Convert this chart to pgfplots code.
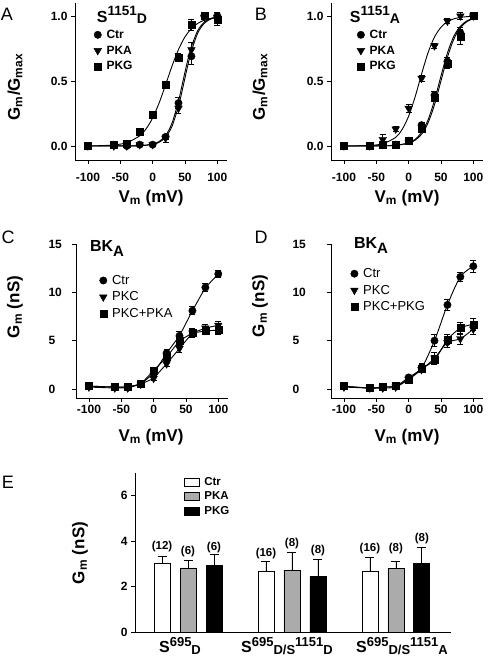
\documentclass[border=0pt]{standalone}
\usepackage{fontspec}
\setmainfont{Liberation Sans}
\usepackage{pgfplots}
\pgfplotsset{compat=1.18}
\newcommand\tk{\bfseries\fontsize{12}{12}\selectfont}
\newcommand\lab{\bfseries\fontsize{17}{18}\selectfont}
\newcommand\pl{\fontsize{18}{18}\selectfont}
\newcommand\ttl[2]{{\fontsize{16}{16}\selectfont S}\raisebox{7pt}{\fontsize{13.5}{14}\selectfont #1}\raisebox{-1pt}{\fontsize{14}{14}\selectfont #2}}
\newcommand\cat[1]{{\fontsize{16}{16}\selectfont S}\raisebox{6pt}{\fontsize{13}{13}\selectfont 695}\raisebox{-2pt}{\fontsize{13}{13}\selectfont #1}}
\pgfplotsset{
  base/.style={scale only axis, axis x line*=bottom, axis y line*=left,
    axis line style={-, line width=0.8pt}, tick align=outside, major tick length=4pt,
    tick style={line width=0.8pt, black}, tick label style={font=\tk}, clip=false},
  vaxis/.style={base, width=152pt, height=157pt, xmin=-120, xmax=115,
    xtick={-100,-50,0,50,100}, xticklabels={-100,-50,0,50,100}},
  errs/.style={error bars/y dir=both, error bars/y explicit,
    error bars/error bar style={line width=0.8pt, black},
    error bars/error mark options={rotate=90, mark size=3pt, line width=0.8pt, black}},
  mc/.style={black, only marks, mark=*, mark size=3.7pt, errs},
  mt/.style={black, only marks, mark=triangle*, mark size=4.4pt, mark options={rotate=180}, errs},
  ms/.style={black, only marks, mark=square*, mark size=3.5pt, errs},
  fit/.style={black, line width=0.9pt, smooth, no markers, forget plot},
  lnk/.style={black, line width=0.9pt, no markers, forget plot},
  leg/.style={legend cell align=left, legend style={draw=none, fill=none, inner sep=0pt, row sep=2pt, at={#1}, anchor=north west,
     /tikz/every odd column/.append style={column sep=3pt}}},
  ebar/.style={ybar, bar width=16pt, bar shift=0pt, draw=black, line width=0.8pt,
    error bars/y dir=plus, error bars/y explicit, error bars/error bar style={line width=0.8pt, black},
    error bars/error mark options={rotate=90, mark size=4.5pt, line width=0.8pt, black}},
}
\begin{document}
\begin{tikzpicture}
\path[use as bounding box] (0pt,0pt) rectangle (489pt,659pt);
% ---------------- A ----------------
\begin{axis}[vaxis, at={(75pt,499pt)}, anchor=south west, ymin=-0.108, ymax=1.1,
  ytick={0,0.5,1}, yticklabels={0.0,0.5,1.0}, xticklabel style={yshift=-6pt},
  leg={(axis cs:-91,0.91)}, legend style={font=\bfseries\fontsize{12}{13}\selectfont}]
\addplot[fit] coordinates {(-100,0.0008)(-80,0.0025)(-60,0.008)(-40,0.025)(-20,0.078)(-10,0.132)(0,0.215)(10,0.33)(20,0.47)(30,0.615)(40,0.742)(50,0.839)(60,0.903)(70,0.944)(80,0.968)(90,0.982)(100,0.99)};
\addplot[fit] coordinates {(-100,0)(-40,0.0003)(-20,0.0019)(0,0.0115)(10,0.028)(20,0.067)(30,0.151)(40,0.306)(45,0.41)(50,0.523)(55,0.633)(60,0.731)(70,0.871)(80,0.944)(90,0.977)(100,0.99)};
\addplot[fit] coordinates {(-100,0)(-40,0.0004)(-20,0.0023)(0,0.0138)(10,0.034)(20,0.079)(30,0.176)(40,0.346)(45,0.455)(50,0.568)(55,0.674)(60,0.765)(70,0.89)(80,0.953)(90,0.98)(100,0.992)};
\addplot[mc] coordinates {(-100,0.00) +- (0,0.01) (-60,0.01) +- (0,0.01) (-40,0.00) +- (0,0.01) (-20,0.01) +- (0,0.01) (0,0.01) +- (0,0.01) (20,0.07) +- (0,0.02) (40,0.33) +- (0,0.04) (60,0.69) +- (0,0.06) (80,1.00) +- (0,0.02) (100,1.00) +- (0,0.03)};
\addlegendentry{Ctr}
\addplot[mt] coordinates {(-100,0.00) +- (0,0.01) (-60,0.00) +- (0,0.01) (-40,0.00) +- (0,0.01) (-20,0.01) +- (0,0.01) (0,0.01) +- (0,0.01) (20,0.06) +- (0,0.03) (40,0.29) +- (0,0.04) (60,0.74) +- (0,0.06) (80,0.99) +- (0,0.02) (100,0.99) +- (0,0.04)};
\addlegendentry{PKA}
\addplot[ms] coordinates {(-100,0.00) +- (0,0.01) (-60,0.01) +- (0,0.01) (-40,0.02) +- (0,0.01) (-20,0.11) +- (0,0.01) (0,0.24) +- (0,0.02) (20,0.47) +- (0,0.02) (40,0.68) +- (0,0.03) (60,0.93) +- (0,0.04) (80,1.00) +- (0,0.01) (100,0.97) +- (0,0.04)};
\addlegendentry{PKG}
\end{axis}
% ---------------- B ----------------
\begin{axis}[vaxis, at={(331pt,499pt)}, anchor=south west, ymin=-0.108, ymax=1.1,
  ytick={0,0.5,1}, yticklabels={0.0,0.5,1.0}, xticklabel style={yshift=-6pt},
  leg={(axis cs:-80,0.91)}, legend style={font=\bfseries\fontsize{12}{13}\selectfont}]
\addplot[fit] coordinates {(-100,0.0002)(-80,0.001)(-60,0.004)(-40,0.0168)(-20,0.066)(-10,0.127)(0,0.229)(10,0.377)(20,0.553)(30,0.717)(40,0.838)(50,0.913)(60,0.956)(70,0.978)(80,0.989)(90,0.995)(100,0.997)};
\addplot[fit] coordinates {(-100,0)(-60,0.0002)(-40,0.0011)(-20,0.005)(0,0.024)(10,0.051)(20,0.104)(30,0.2)(40,0.351)(50,0.538)(60,0.716)(70,0.845)(80,0.921)(90,0.962)(100,0.982)};
\addplot[fit] coordinates {(-100,0)(-60,0.0002)(-40,0.001)(-20,0.0046)(0,0.021)(10,0.044)(20,0.09)(30,0.177)(40,0.317)(50,0.5)(60,0.683)(70,0.823)(80,0.91)(90,0.956)(100,0.979)};
\addplot[mc] coordinates {(-100,0.00) +- (0,0.01) (-60,0.00) +- (0,0.01) (-40,0.01) +- (0,0.01) (-20,0.01) +- (0,0.01) (0,0.04) +- (0,0.01) (20,0.16) +- (0,0.02) (40,0.39) +- (0,0.03) (60,0.65) +- (0,0.03) (80,0.87) +- (0,0.04) (100,1.00) +- (0,0.01)};
\addlegendentry{Ctr}
\addplot[mt] coordinates {(-100,0.00) +- (0,0.01) (-60,0.00) +- (0,0.01) (-40,0.05) +- (0,0.04) (-20,0.13) +- (0,0.02) (0,0.29) +- (0,0.03) (20,0.52) +- (0,0.02) (40,0.77) +- (0,0.02) (60,0.96) +- (0,0.02) (80,1.00) +- (0,0.03) (100,1.00) +- (0,0.01)};
\addlegendentry{PKA}
\addplot[ms] coordinates {(-100,0.00) +- (0,0.01) (-60,0.00) +- (0,0.01) (-40,0.01) +- (0,0.01) (-20,0.01) +- (0,0.01) (0,0.04) +- (0,0.01) (20,0.13) +- (0,0.02) (40,0.37) +- (0,0.03) (60,0.63) +- (0,0.03) (80,0.84) +- (0,0.06) (100,1.00) +- (0,0.01)};
\addlegendentry{PKG}
\end{axis}
% ---------------- C ----------------
\begin{axis}[vaxis, height=154pt, at={(76pt,261pt)}, anchor=south west, ymin=-0.93, ymax=15,
  ytick={0,5,10,15}, yticklabels={0,5,10,15}, yticklabel style={anchor=west, xshift=-27pt},
  leg={(axis cs:-84,12.0)}, legend style={font=\fontsize{13}{14}\selectfont}]
\addplot[lnk] coordinates {(-100,0.3)(-60,0.2)(-40,0.2)(-20,0.5)(0,1.6)(20,3.7)(40,5.5)(60,8.1)(80,10.5)(100,11.9)};
\addplot[lnk] coordinates {(-100,0.2)(-60,0.1)(-40,0.1)(-20,0.5)(0,1.1)(20,2.6)(40,4.2)(60,5.8)(80,6.3)(100,6.6)};
\addplot[lnk] coordinates {(-100,0.3)(-60,0.2)(-40,0.2)(-20,0.5)(0,1.9)(20,3.3)(40,5.0)(60,5.8)(80,6.0)(100,6.1)};
\addplot[mc] coordinates {(-100,0.3) +- (0,0.1) (-60,0.2) +- (0,0.1) (-40,0.2) +- (0,0.1) (-20,0.5) +- (0,0.1) (0,1.6) +- (0,0.2) (20,3.7) +- (0,0.4) (40,5.5) +- (0,0.5) (60,8.1) +- (0,0.4) (80,10.5) +- (0,0.4) (100,11.9) +- (0,0.4)};
\addlegendentry{Ctr}
\addplot[mt] coordinates {(-100,0.2) +- (0,0.1) (-60,0.1) +- (0,0.1) (-40,0.1) +- (0,0.1) (-20,0.5) +- (0,0.1) (0,1.1) +- (0,0.2) (20,2.6) +- (0,0.3) (40,4.2) +- (0,0.4) (60,5.8) +- (0,0.5) (80,6.3) +- (0,0.4) (100,6.6) +- (0,0.4)};
\addlegendentry{PKC}
\addplot[ms] coordinates {(-100,0.3) +- (0,0.1) (-60,0.2) +- (0,0.1) (-40,0.2) +- (0,0.1) (-20,0.5) +- (0,0.1) (0,1.9) +- (0,0.3) (20,3.3) +- (0,0.4) (40,5.0) +- (0,0.5) (60,5.8) +- (0,0.4) (80,6.0) +- (0,0.4) (100,6.1) +- (0,0.4)};
\addlegendentry{PKC+PKA}
\end{axis}
% ---------------- D ----------------
\begin{axis}[vaxis, height=154pt, at={(331pt,261pt)}, anchor=south west, ymin=-0.93, ymax=15,
  ytick={0,5,10,15}, yticklabels={0,5,10,15}, yticklabel style={anchor=west, xshift=-38pt},
  leg={(axis cs:-90,12.7)}, legend style={font=\fontsize{13}{14}\selectfont}]
\addplot[lnk, smooth] coordinates {(-100,0.3)(-60,0.1)(-40,0.2)(-20,0.3)(0,1.2)(20,2.2)(40,5.0)(60,8.7)(80,11.6)(100,12.7)};
\addplot[lnk, smooth] coordinates {(-100,0.2)(-60,0.1)(-40,0.1)(-20,0.2)(0,1.0)(20,2.0)(40,3.2)(60,4.8)(80,5.2)(100,6.2)};
\addplot[lnk, smooth] coordinates {(-100,0.3)(-60,0.1)(-40,0.2)(-20,0.3)(0,1.0)(20,2.1)(40,3.0)(60,5.1)(80,6.3)(100,6.7)};
\addplot[mc] coordinates {(-100,0.3) +- (0,0.1) (-60,0.1) +- (0,0.1) (-40,0.2) +- (0,0.1) (-20,0.3) +- (0,0.1) (0,1.2) +- (0,0.2) (20,2.2) +- (0,0.4) (40,5.0) +- (0,0.6) (60,8.7) +- (0,0.6) (80,11.6) +- (0,0.5) (100,12.7) +- (0,0.6)};
\addlegendentry{Ctr}
\addplot[mt] coordinates {(-100,0.2) +- (0,0.1) (-60,0.1) +- (0,0.1) (-40,0.1) +- (0,0.1) (-20,0.2) +- (0,0.1) (0,1.0) +- (0,0.2) (20,2.0) +- (0,0.3) (40,3.2) +- (0,0.6) (60,4.8) +- (0,0.5) (80,5.2) +- (0,0.6) (100,6.2) +- (0,0.6)};
\addlegendentry{PKC}
\addplot[ms] coordinates {(-100,0.3) +- (0,0.1) (-60,0.1) +- (0,0.1) (-40,0.2) +- (0,0.1) (-20,0.3) +- (0,0.1) (0,1.0) +- (0,0.2) (20,2.1) +- (0,0.4) (40,3.0) +- (0,0.5) (60,5.1) +- (0,0.5) (80,6.3) +- (0,0.6) (100,6.7) +- (0,0.6)};
\addlegendentry{PKC+PKG}
\end{axis}
% ---------------- E ----------------
\begin{axis}[base, at={(135pt,27pt)}, anchor=south west, width=316pt, height=159pt,
  xmin=0.49, xmax=3.53, ymin=0, ymax=7, xtick=\empty, ytick={0,2,4,6}, yticklabels={0,2,4,6},
  legend image code/.code={\draw[#1, line width=0.8pt] (0pt,-4pt) rectangle (15pt,4pt);},
  leg={(axis cs:0.955,6.9)}, legend style={font=\bfseries\fontsize{11.5}{12}\selectfont, row sep=1pt}]
\addplot[ebar, fill=white] coordinates {(0.75,3.03) +- (0,0.32) (1.75,2.66) +- (0,0.46) (2.75,2.65) +- (0,0.63)};
\addlegendentry{Ctr}
\addplot[ebar, fill=black!33] coordinates {(1,2.82) +- (0,0.33) (2,2.72) +- (0,0.78) (3,2.81) +- (0,0.31)};
\addlegendentry{PKA}
\addplot[ebar, fill=black] coordinates {(1.25,2.92) +- (0,0.49) (2.25,2.44) +- (0,0.77) (3.25,3.03) +- (0,0.71)};
\addlegendentry{PKG}
\begin{scope}[font=\bfseries\fontsize{11.5}{12}\selectfont]
\node at (axis cs:0.75,3.75) {(12)};
\node at (axis cs:1,3.53) {(6)};
\node at (axis cs:1.25,3.72) {(6)};
\node at (axis cs:1.75,3.44) {(16)};
\node at (axis cs:2,3.88) {(8)};
\node at (axis cs:2.25,3.59) {(8)};
\node at (axis cs:2.75,3.66) {(16)};
\node at (axis cs:3,3.66) {(8)};
\node at (axis cs:3.25,4.12) {(8)};
\end{scope}
\end{axis}
% ---------------- text ----------------
\node at (7pt,645pt) {\pl A};
\node at (261pt,645pt) {\pl B};
\node at (8pt,422pt) {\pl C};
\node at (261pt,422pt) {\pl D};
\node at (8pt,177pt) {\pl E};
\node[rotate=90] at (15pt,572pt) {\lab G\textsubscript{m}/G\textsubscript{max}};
\node[rotate=90] at (260pt,572pt) {\lab G\textsubscript{m}/G\textsubscript{max}};
\node[rotate=90] at (15pt,352pt) {\lab G\textsubscript{m} (nS)};
\node[rotate=90] at (260pt,353pt) {\lab G\textsubscript{m} (nS)};
\node[rotate=90] at (80pt,106pt) {\lab G\textsubscript{m} (nS)};
\node at (151pt,461pt) {\lab V\textsubscript{m} (mV)};
\node at (407pt,461pt) {\lab V\textsubscript{m} (mV)};
\node at (151pt,222pt) {\lab V\textsubscript{m} (mV)};
\node at (407pt,222pt) {\lab V\textsubscript{m} (mV)};
\node[font=\bfseries] at (122pt,644pt) {\ttl{1151}{D}};
\node[font=\bfseries] at (375pt,644pt) {\ttl{1151}{A}};
\node[font=\bfseries] at (107pt,410pt) {{\fontsize{16}{16}\selectfont BK}\raisebox{-5pt}{\fontsize{15}{15}\selectfont A}};
\node[font=\bfseries] at (371pt,413pt) {{\fontsize{16}{16}\selectfont BK}\raisebox{-5pt}{\fontsize{15}{15}\selectfont A}};
\node[font=\bfseries] at (180pt,13pt) {\cat{D}};
\node[font=\bfseries] at (287pt,13pt) {\cat{D/S}\raisebox{6pt}{\fontsize{13}{13}\selectfont 1151}\raisebox{-2pt}{\fontsize{13}{13}\selectfont D}};
\node[font=\bfseries] at (402pt,13pt) {\cat{D/S}\raisebox{6pt}{\fontsize{13}{13}\selectfont 1151}\raisebox{-2pt}{\fontsize{13}{13}\selectfont A}};
\end{tikzpicture}
\end{document}
